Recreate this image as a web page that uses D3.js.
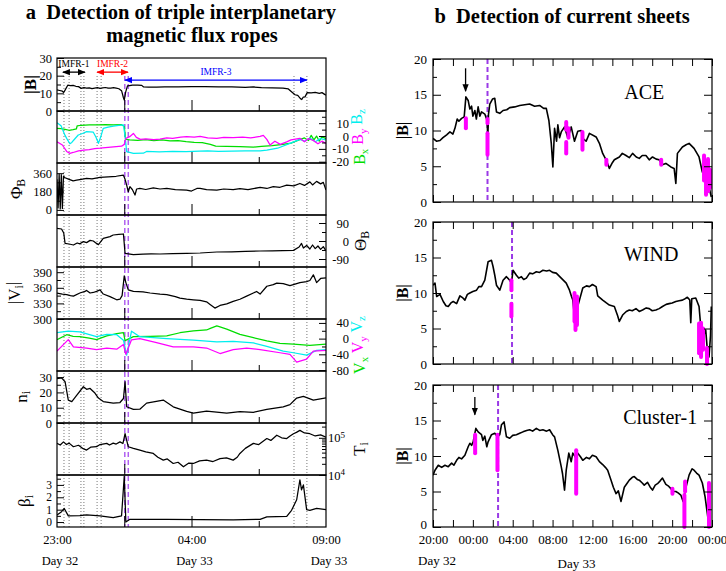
<!DOCTYPE html>
<html>
<head>
<meta charset="utf-8">
<script src="https://cdn.jsdelivr.net/npm/d3@7"></script>
<style>
  body { margin: 0; background: #fff; }
  text { font-family: "Liberation Serif", "Times New Roman", serif; }
</style>
</head>
<body>
<svg id="fig" width="726" height="571"></svg>
<script>
// ---------- panel a data: hours after 23:00 on day 32 ----------
const aTimeTicks = [0, 5, 10];
const aTimeLabels = ["23:00", "04:00", "09:00"];
const aDayLabels = [[0, "Day 32"], [5, "Day 33"], [10, "Day 33"]];
const aBoundaryTimes = [0.26, 0.45, 0.89, 1.0, 1.49, 1.64, 8.81, 9.29];
const aShockTimes = [2.52, 2.65];
const imfrNames = ["IMFR-1", "IMFR-2", "IMFR-3"];
const imfrStart = [0.22, 1.49, 2.53];
const imfrEnd = [1.04, 2.64, 9.29];
const imfrLevel = [22, 22, 17.5];

const absB = [[0,11.9],[0.1,11.6],[0.2,11.2],[0.25,10.5],[0.3,11.8],[0.4,14.6],[0.5,14.3],[0.6,14.5],[0.7,14.0],[0.8,13.8],[0.9,12.8],[1.0,13.2],[1.1,12.9],[1.2,13.1],[1.3,12.7],[1.4,13.0],[1.5,13.2],[1.6,12.8],[1.7,13.1],[1.8,13.3],[1.9,12.9],[2.0,13.0],[2.1,13.2],[2.2,12.9],[2.3,12.6],[2.4,11.5],[2.47,7.5],[2.5,6.2],[2.55,10.5],[2.62,14.2],[2.7,14.4],[2.8,14.6],[3.0,14.7],[3.15,14.5],[3.22,13.6],[3.4,13.5],[3.7,13.5],[4.0,13.6],[4.5,13.7],[5.0,13.8],[5.5,13.8],[6.0,13.7],[6.5,13.6],[7.0,13.4],[7.3,13.6],[7.6,13.2],[8.0,13.1],[8.4,12.9],[8.6,12.5],[8.75,10.5],[8.85,9.2],[8.95,8.8],[9.05,7.0],[9.1,6.5],[9.15,7.8],[9.22,8.0],[9.3,10.4],[9.45,10.2],[9.6,10.5],[9.75,10.0],[9.85,10.4],[9.95,9.4],[10,9.0]];
const bx = [[0,6.0],[0.15,5.8],[0.3,5.2],[0.45,4.5],[0.6,5.0],[0.72,5.5],[0.75,8.0],[0.9,8.4],[1.2,8.6],[1.5,8.7],[1.8,8.9],[2.1,8.6],[2.4,8.8],[2.5,7.5],[2.55,-2.5],[2.7,-3.0],[3.0,-3.4],[3.3,-2.8],[3.6,-3.6],[3.9,-3.0],[4.2,-3.8],[4.5,-3.5],[4.8,-4.4],[5.1,-5.0],[5.4,-5.2],[5.7,-6.5],[5.9,-7.8],[6.3,-8.0],[6.8,-8.3],[7.3,-8.6],[7.6,-8.0],[8.0,-7.5],[8.4,-6.5],[8.7,-5.5],[9.0,-3.0],[9.2,-1.5],[9.35,-3.5],[9.45,0.5],[9.55,-3.0],[9.65,0.0],[9.75,-4.0],[9.85,-0.5],[10,-2.0]];
const by = [[0,-4.4],[0.2,-7.0],[0.36,-12.0],[0.48,-13.5],[0.6,-12.8],[0.8,-11.5],[1.0,-11.0],[1.2,-10.5],[1.4,-9.8],[1.6,-9.5],[1.8,-9.0],[2.0,-8.6],[2.2,-8.2],[2.4,-7.9],[2.5,-6.5],[2.56,-1.8],[2.7,-0.5],[2.84,2.0],[2.95,-1.0],[3.1,-2.6],[3.3,-2.2],[3.6,-2.8],[3.83,-2.4],[4.08,-1.5],[4.3,-1.8],[4.6,-0.8],[4.82,-0.5],[5.1,-0.8],[5.32,-0.3],[5.6,-1.5],[5.94,-1.8],[6.2,-1.0],[6.55,-1.2],[6.9,-0.8],[7.2,-1.5],[7.55,-0.3],[7.67,0.5],[7.8,-2.6],[7.92,-7.0],[8.1,-4.0],[8.3,-6.5],[8.54,-4.5],[8.7,-3.0],[9.03,-1.8],[9.2,-4.5],[9.35,-2.0],[9.53,-3.5],[9.7,-6.0],[9.85,-4.0],[10,-5.7]];
const bz = [[0,10.4],[0.15,8.0],[0.3,0.5],[0.36,-1.8],[0.48,-6.0],[0.55,-5.0],[0.65,-2.5],[0.79,0.8],[0.95,2.0],[1.1,3.4],[1.35,3.0],[1.45,-1.0],[1.54,-5.7],[1.62,-1.0],[1.72,6.0],[1.9,7.0],[2.1,7.8],[2.3,8.3],[2.47,8.6],[2.53,0.0],[2.59,-12.2],[2.84,-13.5],[3.21,-13.4],[3.33,-12.0],[3.8,-12.3],[4.3,-12.0],[4.8,-12.2],[5.3,-11.8],[5.6,-11.5],[6.0,-12.0],[6.5,-11.8],[7.0,-11.6],[7.55,-11.6],[7.8,-11.0],[8.2,-9.5],[8.66,-5.7],[9.03,-2.6],[9.2,-4.0],[9.4,-1.5],[9.6,-4.5],[9.8,-2.0],[10,-3.0]];
const phiB = [[0,300],[0.04,20],[0.08,350],[0.12,10],[0.16,345],[0.2,15],[0.24,330],[0.3,315],[0.45,300],[0.6,285],[0.73,292],[0.9,300],[1.1,310],[1.3,305],[1.6,320],[1.9,325],[2.2,330],[2.47,340],[2.53,300],[2.59,243],[2.65,178],[2.71,228],[2.8,200],[2.9,146],[2.96,205],[3.08,211],[3.3,200],[3.58,215],[3.83,205],[4.08,212],[4.4,200],[4.82,195],[5.0,185],[5.2,210],[5.32,211],[5.56,198],[5.94,195],[6.2,205],[6.55,198],[6.8,208],[7.1,200],[7.55,220],[7.8,210],[8.04,228],[8.29,222],[8.54,243],[8.8,235],[9.03,259],[9.2,240],[9.4,275],[9.5,245],[9.65,280],[9.8,255],[9.9,270],[10,195]];
const thetaB = [[0,63],[0.17,60],[0.25,40],[0.3,-12],[0.45,-15],[0.61,-20],[0.75,-10],[0.85,-14],[0.98,-3],[1.1,-8],[1.23,3],[1.35,0],[1.47,-12],[1.54,-18],[1.72,13],[1.97,22],[2.09,30],[2.3,33],[2.47,35],[2.53,-62],[2.84,-68],[3.2,-66],[3.5,-64],[3.83,-65],[4.3,-63],[4.82,-62],[5.32,-60],[5.94,-55],[6.5,-54],[7.0,-52],[7.55,-50],[8.0,-49],[8.79,-47],[9.0,-30],[9.09,-12],[9.16,-35],[9.28,-22],[9.4,-40],[9.5,-20],[9.6,-38],[9.7,-25],[9.8,-42],[9.9,-28],[10,-50]];
const absV = [[0,350],[0.2,348],[0.36,347],[0.5,345],[0.61,344],[0.85,350],[1.04,353],[1.1,355],[1.23,350],[1.35,351],[1.47,353],[1.6,356],[1.72,348],[1.97,343],[2.22,337],[2.34,338],[2.42,345],[2.5,383],[2.56,370],[2.65,356],[2.84,353],[3.2,352],[3.46,350],[3.83,348],[4.08,347],[4.4,343],[4.57,340],[4.82,338],[5.07,337],[5.32,336],[5.56,333],[5.69,328],[5.87,321],[6.06,326],[6.31,329],[6.55,334],[6.8,338],[7.05,344],[7.3,350],[7.42,353],[7.55,348],[7.8,363],[8.04,366],[8.17,369],[8.41,368],[8.66,364],[8.91,368],[9.03,370],[9.28,372],[9.4,374],[9.53,385],[9.65,370],[9.8,378],[10,379]];
const vx = [[0,-2.5],[0.36,10],[0.6,6],[0.85,5],[1.2,1],[1.47,-2.5],[1.85,7],[2.22,12.7],[2.47,15],[2.53,-5],[2.84,5],[3.46,6],[4.08,7],[4.57,15],[5.07,19.5],[5.56,22],[5.7,26],[5.94,32.5],[6.06,30],[6.31,24],[6.8,11],[7.3,2.5],[7.8,-6],[8.29,-12],[8.79,-14],[9.4,-17],[10,-14]];
const vy = [[0,-32],[0.42,-2.5],[0.61,-21],[1.1,-24],[1.47,-28],[1.85,-24],[2.22,-27],[2.47,-15],[2.56,-40],[2.77,-3],[3.08,0],[3.7,-10],[4.32,-21],[5.07,-21],[5.56,-24],[6.06,-38],[6.55,-28],[7.05,-24],[7.55,-28],[8.29,-36],[8.66,-40],[8.91,-60],[9.28,-52],[9.53,-32],[10,-30]];
const vz = [[0,15],[0.42,19],[0.85,17],[1.47,5],[1.85,11],[2.22,10],[2.47,-4],[2.59,-42],[2.77,19],[3.08,5],[4.08,0],[5.07,-4],[5.94,-8],[6.55,-7],[7.3,-11],[7.8,-20],[8.41,-32],[8.79,-36],[9.28,-42],[9.65,-30],[10,-28]];
const ni = [[0,29],[0.17,29.5],[0.3,27],[0.42,15],[0.55,14],[0.73,18],[0.98,23.7],[1.1,22],[1.23,22.6],[1.41,19.6],[1.54,16.3],[1.72,14],[2.09,13],[2.34,13.4],[2.47,16],[2.53,27],[2.59,10.6],[2.84,8.9],[3.08,9],[3.33,13],[3.95,15],[4.32,10.6],[4.82,7.6],[5.07,6.5],[5.56,7.8],[6.31,6.5],[6.8,7.4],[7.3,7],[7.8,8.9],[8.41,10.6],[8.66,12],[8.91,16.3],[9.16,17.4],[9.53,15],[10,16.5]];
const ti = [[0,70800],[0.12,64000],[0.24,77600],[0.35,66000],[0.45,72000],[0.61,57500],[0.8,63000],[0.95,52000],[1.1,46800],[1.25,56000],[1.47,57500],[1.6,66000],[1.85,70800],[1.95,64000],[2.09,72000],[2.2,68000],[2.34,77600],[2.45,70000],[2.53,128800],[2.6,80000],[2.65,57500],[2.84,52000],[3.08,46800],[3.3,42000],[3.58,38000],[3.75,30000],[3.95,25100],[4.1,27000],[4.32,20400],[4.5,22000],[4.7,16600],[4.9,21000],[5.07,20400],[5.3,24000],[5.56,25100],[5.8,23000],[6.06,27500],[6.3,29000],[6.55,25100],[6.7,30000],[6.8,38000],[7.0,52000],[7.3,70800],[7.5,66000],[7.8,95500],[7.95,85000],[8.17,117500],[8.35,100000],[8.54,95500],[8.65,110000],[8.79,128800],[8.9,140000],[9.03,158500],[9.2,135000],[9.4,128800],[9.6,112000],[9.8,120000],[10,104700]];
const betai = [[0,0.57],[0.17,0.84],[0.27,1.1],[0.42,0.5],[0.85,0.52],[1.1,0.57],[1.6,0.5],[2.09,0.35],[2.4,0.5],[2.5,3.7],[2.56,0.0],[2.71,0.22],[4.08,0.22],[5.32,0.2],[6.55,0.18],[7.55,0.22],[7.8,0.42],[8.54,0.45],[8.72,0.95],[8.91,1.8],[9.03,3.4],[9.09,2.6],[9.16,3.0],[9.28,1.0],[9.4,0.95],[9.65,1.1],[10,1.0]];

// ---------- panel b data: hours after 20:00 on day 32 ----------
const bTimeTicks = [0, 4, 8, 12, 16, 20, 24, 28];
const bTimeLabels = ["20:00", "00:00", "04:00", "08:00", "12:00", "16:00", "20:00", "00:00"];
const bDayLabels = [[0, "Day 32"], [14, "Day 33"]];
const bNames = ["ACE", "WIND", "Cluster-1"];
const bShockTimes = [5.47, 7.93, 6.53];
const bArrows = [[3.27, 18.7, 15.5], null, [4.2, 18.3, 15.8]];

const ace = [[0,8.9],[0.35,8.5],[0.7,8.6],[1.0,9.0],[1.37,9.4],[1.7,9.8],[2.0,9.5],[2.2,10.3],[2.43,11.6],[2.6,11.3],[2.87,11.7],[3.13,11.9],[3.3,14.7],[3.53,14.2],[3.7,13.0],[3.87,13.4],[4.0,12.0],[4.2,12.8],[4.35,11.6],[4.53,13.3],[4.7,12.0],[4.87,12.6],[5.2,12.3],[5.43,11.4],[5.5,9.0],[5.57,12.3],[5.7,13.7],[5.97,14.4],[6.2,14.5],[6.37,12.6],[6.7,12.4],[7.03,12.8],[7.4,12.9],[7.7,13.2],[8.2,13.3],[8.7,13.5],[9.2,13.6],[9.7,13.7],[10.2,13.4],[10.7,13.5],[11.1,13.1],[11.37,13.1],[11.63,11.4],[11.87,8.2],[12.03,4.9],[12.2,10.3],[12.4,8.5],[12.53,10.8],[12.7,9.0],[12.87,9.8],[13.2,10.5],[13.53,9.0],[13.87,10.5],[14.2,8.5],[14.53,9.9],[14.87,10.0],[15.1,8.8],[15.37,8.5],[15.7,9.6],[16.37,9.1],[16.7,8.2],[17.03,6.8],[17.37,5.9],[17.7,4.7],[18.0,5.5],[18.2,5.9],[18.7,6.3],[19.0,6.8],[19.37,6.5],[19.7,6.2],[20.03,6.8],[20.4,6.3],[20.7,6.1],[21.0,6.5],[21.37,6.5],[21.7,5.9],[22.03,6.3],[22.4,6.0],[22.7,5.9],[23.0,5.2],[23.37,5.4],[23.87,4.9],[24.2,4.7],[24.37,2.6],[24.53,6.8],[25.03,7.7],[25.4,8.0],[25.7,8.2],[26.2,7.5],[26.7,6.3],[27.03,4.2],[27.37,5.0],[27.7,2.1],[27.93,0.7]];
const wind = [[0,11.1],[0.2,11.4],[0.37,9.5],[0.7,9.8],[1.03,8.8],[1.3,8.2],[1.53,8.1],[1.8,8.6],[2.03,8.8],[2.37,8.5],[2.7,9.6],[3.0,9.3],[3.2,9.0],[3.45,9.8],[3.7,10.0],[4.0,10.2],[4.37,10.4],[4.6,10.9],[4.87,10.9],[5.2,11.8],[5.53,14.4],[5.87,14.6],[6.03,13.7],[6.2,12.5],[6.37,11.1],[6.7,10.4],[7.03,11.8],[7.37,12.3],[7.7,11.8],[7.87,11.4],[8.03,13.2],[8.37,12.5],[8.6,12.1],[8.87,12.3],[9.1,11.9],[9.37,12.1],[9.7,12.8],[10.0,12.7],[10.37,13.0],[10.7,12.9],[11.03,13.2],[11.4,13.1],[11.7,13.2],[12.0,12.9],[12.37,12.8],[12.87,12.1],[13.37,11.4],[13.7,10.4],[13.9,9.5],[14.03,9.0],[14.2,6.7],[14.37,5.7],[14.5,8.0],[14.7,9.0],[15.03,10.7],[15.4,11.0],[15.7,10.9],[16.0,11.2],[16.37,10.9],[16.53,9.6],[17.03,9.0],[17.4,8.6],[17.7,8.3],[18.2,8.1],[18.53,6.8],[18.7,6.0],[19.03,6.9],[19.4,7.4],[19.7,7.6],[20.0,7.5],[20.37,7.8],[20.7,7.4],[21.03,7.6],[21.4,7.9],[21.7,7.8],[22.0,7.5],[22.37,7.6],[22.7,7.8],[23.03,8.1],[23.4,8.4],[23.7,8.5],[24.0,8.6],[24.37,8.8],[24.7,8.9],[25.03,9.0],[25.3,9.2],[25.53,9.4],[25.77,9.0],[25.87,5.8],[25.97,9.2],[26.37,9.3],[26.7,8.1],[26.87,5.3],[27.03,3.4],[27.37,4.8],[27.53,2.0],[27.7,1.0],[27.85,4.0],[27.93,8.1]];
const cluster = [[0,7.3],[0.2,8.0],[0.53,8.7],[0.87,8.4],[1.2,8.7],[1.53,8.5],[1.87,9.0],[2.1,8.7],[2.37,9.4],[2.6,9.8],[2.87,9.6],[3.2,10.1],[3.53,11.3],[3.7,11.8],[3.87,11.5],[4.03,12.0],[4.3,13.9],[4.53,13.4],[4.87,13.0],[5.0,12.2],[5.2,12.8],[5.4,11.3],[5.53,12.0],[5.87,13.0],[6.2,13.2],[6.47,12.7],[6.7,13.0],[6.87,14.4],[7.13,14.8],[7.37,12.7],[7.7,12.5],[8.0,12.9],[8.37,13.0],[8.7,13.2],[9.03,13.4],[9.4,13.6],[9.7,13.7],[10.0,13.5],[10.37,13.9],[10.7,13.6],[11.03,13.7],[11.4,13.5],[11.7,13.7],[12.0,13.0],[12.2,12.7],[12.53,10.8],[12.87,8.5],[13.0,7.5],[13.2,5.2],[13.37,8.0],[13.63,10.4],[13.87,9.2],[14.03,10.4],[14.3,9.8],[14.53,10.4],[14.8,9.9],[15.03,9.4],[15.4,9.8],[15.7,9.6],[16.0,10.1],[16.37,9.9],[16.7,9.2],[17.03,8.8],[17.3,8.4],[17.53,8.0],[17.87,6.6],[18.1,5.6],[18.37,4.7],[18.6,5.1],[18.87,3.6],[19.2,5.6],[19.5,6.2],[19.7,6.6],[20.0,7.0],[20.2,7.1],[20.5,6.7],[20.7,6.6],[21.0,6.2],[21.2,5.9],[21.53,6.3],[21.8,5.6],[22.03,5.2],[22.3,5.9],[22.53,6.1],[22.8,6.5],[23.03,6.9],[23.37,6.0],[23.6,5.8],[23.87,5.4],[24.1,5.0],[24.37,5.0],[24.6,4.8],[24.87,4.5],[25.1,3.6],[25.37,5.5],[25.7,7.3],[26.0,8.2],[26.2,8.0],[26.45,7.6],[26.7,7.3],[27.03,6.2],[27.3,4.3],[27.53,1.9],[27.7,0.1]];
// current sheets: [hour, low |B|, high |B|]
const aceSheets = [[3.3,10.3,11.7],[5.47,6.6,9.6],[5.47,11.0,11.6],[13.37,10.1,11.2],[13.37,6.8,8.4],[13.6,9.0,10.3],[15.0,7.3,9.8],[17.4,5.2,5.9],[22.9,5.2,5.9],[27.2,3.0,6.5],[27.4,1.0,5.5],[27.6,1.5,6.0],[27.8,2.0,4.5]];
const windSheets = [[7.87,10.4,11.8],[7.87,6.7,8.5],[14.2,6.0,10.0],[14.3,4.8,9.0],[14.45,5.5,9.5],[26.7,1.5,5.7],[26.9,1.0,5.8],[27.1,2.0,5.0],[27.5,0.0,2.3]];
const clusterSheets = [[4.23,10.4,13.0],[6.47,8.0,13.0],[14.37,4.7,10.8],[24.03,4.7,5.4],[25.23,0,4.5],[25.3,5.0,6.4],[27.7,0,6.2]];

// ---------- drawing ----------
const SERIF = '"Liberation Serif","Times New Roman",serif';
const GREEN = "#00dd00", MAG = "#ff00ff", CYAN = "#00eeee", SHOCK = "#b060f0";
const svg = d3.select("#fig");

const defs = svg.append("defs");
function marker(id, color) {
  defs.append("marker").attr("id", id).attr("viewBox", "0 0 10 10")
    .attr("refX", 9).attr("refY", 5).attr("markerWidth", 6).attr("markerHeight", 6)
    .attr("orient", "auto-start-reverse")
    .append("path").attr("d", "M0,1L10,5L0,9z").attr("fill", color);
}
marker("arrK", "#000"); marker("arrR", "#ff0000"); marker("arrB", "#0000ff");

// titles
svg.append("text").attr("x", 181).attr("y", 19).attr("text-anchor", "middle").style("white-space", "pre")
  .attr("font-weight", "bold").attr("font-size", 20.5).text("a  Detection of triple interplanetary");
svg.append("text").attr("x", 192).attr("y", 42).attr("text-anchor", "middle")
  .attr("font-weight", "bold").attr("font-size", 20.5).text("magnetic flux ropes");
svg.append("text").attr("x", 562).attr("y", 23).attr("text-anchor", "middle").style("white-space", "pre")
  .attr("font-weight", "bold").attr("font-size", 20.5).text("b  Detection of current sheets");

// ===== panel a =====
const xA = d3.scaleLinear().domain([0, 10]).range([57, 326]);
const aPanels = [
  {top: 58, bottom: 111, domain: [0, 30], side: "left", major: [0,10,20,30], minor: [5,15,25], series: [[absB, "#000"]]},
  {top: 111, bottom: 163, domain: [-21, 19.5], side: "right", major: [-20,-10,0,10], minor: [-15,-5,5,15], series: [[bx, GREEN], [bz, CYAN], [by, MAG]]},
  {top: 163, bottom: 215, domain: [-50, 460], side: "left", major: [0,180,360], minor: [90,270], series: [[phiB, "#000"]]},
  {top: 215, bottom: 267, domain: [-130, 130], side: "right", major: [-90,0,90], minor: [-45,45], series: [[thetaB, "#000"]]},
  {top: 267, bottom: 319, domain: [300, 400], side: "left", major: [300,330,360,390], minor: [315,345,375], series: [[absV, "#000"]]},
  {top: 319, bottom: 371, domain: [-82.5, 50], side: "right", major: [-80,-40,0,40], minor: [-60,-20,20], series: [[vx, GREEN], [vz, CYAN], [vy, MAG]]},
  {top: 371, bottom: 423, domain: [0, 34], side: "left", major: [0,10,20,30], minor: [5,15,25], series: [[ni, "#000"]]},
  {top: 423, bottom: 475, domain: [1e4, 2.5e5], log: true, side: "right", major: [1e4,1e5], minor: [2e4,3e4,4e4,5e4,6e4,7e4,8e4,9e4,2e5], series: [[ti, "#000"]]},
  {top: 475, bottom: 527, domain: [-0.4, 3.8], side: "left", major: [0,1,2,3], minor: [0.5,1.5,2.5,3.5], series: [[betai, "#000"]], small: true}
];
const aBottom = aPanels[aPanels.length - 1].bottom;
const gA = svg.append("g");

// dotted boundaries and shock lines behind data
gA.selectAll(".bnd").data(aBoundaryTimes).join("line")
  .attr("x1", d => xA(d)).attr("x2", d => xA(d)).attr("y1", 76).attr("y2", aBottom)
  .attr("stroke", "#777").attr("stroke-width", 1).attr("stroke-dasharray", "1,2");
gA.selectAll(".shk").data(aShockTimes).join("line")
  .attr("x1", d => xA(d)).attr("x2", d => xA(d)).attr("y1", 76).attr("y2", aBottom)
  .attr("stroke", SHOCK).attr("stroke-width", 1.5).attr("stroke-dasharray", "5,3");

aPanels.forEach((p, i) => {
  const y = (p.log ? d3.scaleLog() : d3.scaleLinear()).domain(p.domain).range([p.bottom, p.top]);
  const clipId = "clipA" + i;
  defs.append("clipPath").attr("id", clipId).append("rect")
    .attr("x", xA(0)).attr("y", p.top).attr("width", xA(10) - xA(0)).attr("height", p.bottom - p.top);
  const line = d3.line().x(d => xA(d[0])).y(d => y(d[1]));
  p.series.forEach(([data, color]) => {
    gA.append("path").datum(data).attr("clip-path", `url(#${clipId})`)
      .attr("fill", "none").attr("stroke", color).attr("stroke-width", 1.25)
      .attr("stroke-linejoin", "round").attr("d", line);
  });
  // border
  gA.append("rect").attr("x", xA(0)).attr("y", p.top).attr("width", xA(10) - xA(0))
    .attr("height", p.bottom - p.top).attr("fill", "none").attr("stroke", "#000").attr("stroke-width", 1.2);
  // y axes
  const left = p.side === "left";
  const mk = () => left ? d3.axisLeft(y) : d3.axisRight(y);
  const ax = gA.append("g").attr("transform", `translate(${left ? xA(0) : xA(10)},0)`)
    .call(mk().tickValues(p.major).tickSize(-7).tickPadding(5)
      .tickFormat(d => p.log ? "10" : String(d)));
  ax.attr("font-family", SERIF).attr("font-size", p.small ? 11.5 : 12.5);
  ax.select(".domain").remove();
  if (!left) ax.selectAll("text").attr("text-anchor", "end").attr("x", p.log ? 19 : 23);
  if (p.log) ax.selectAll("text").append("tspan").attr("dy", "-0.5em").attr("font-size", 9)
    .text(d => Math.round(Math.log10(d)));
  const axm = gA.append("g").attr("transform", `translate(${left ? xA(0) : xA(10)},0)`)
    .call(mk().tickValues(p.minor).tickSize(-4).tickFormat(""));
  axm.select(".domain").remove();
  // x ticks
  [[[2.5, 5], -11], [[7.5], -6]].forEach(([vals, len]) => {
    const xt = gA.append("g").attr("transform", `translate(0,${p.bottom})`)
      .call(d3.axisBottom(xA).tickValues(vals).tickSize(len).tickFormat(""));
    xt.select(".domain").remove();
  });
});

// time labels
const xLab = gA.append("g").attr("transform", `translate(0,${aBottom})`)
  .call(d3.axisBottom(xA).tickValues(aTimeTicks).tickSize(0).tickPadding(8)
    .tickFormat((d, i) => aTimeLabels[i]));
xLab.attr("font-family", SERIF).attr("font-size", 12.5);
xLab.select(".domain").remove();
gA.selectAll(".dayA").data(aDayLabels).join("text")
  .attr("x", d => xA(d[0]) + 3).attr("y", 565).attr("text-anchor", "middle")
  .attr("font-size", 12.5).text(d => d[1]);

// IMFR arrows
const yB = d3.scaleLinear().domain(aPanels[0].domain).range([aPanels[0].bottom, aPanels[0].top]);
const imfrColors = ["#000", "#ff0000", "#0000ff"];
const imfrMarkers = ["arrK", "arrR", "arrB"];
imfrNames.forEach((name, i) => {
  gA.append("line").attr("x1", xA(imfrStart[i])).attr("x2", xA(imfrEnd[i]))
    .attr("y1", yB(imfrLevel[i])).attr("y2", yB(imfrLevel[i]))
    .attr("stroke", imfrColors[i]).attr("stroke-width", 1.3)
    .attr("marker-start", `url(#${imfrMarkers[i]})`).attr("marker-end", `url(#${imfrMarkers[i]})`);
  gA.append("text").attr("x", xA((imfrStart[i] + imfrEnd[i]) / 2)).attr("y", yB(imfrLevel[i]) - 5)
    .attr("text-anchor", "middle").attr("font-size", 9.5).attr("fill", imfrColors[i]).text(name);
});

// axis titles (rotated)
function vlabel(g, x, y, parts, size, bold) {
  const t = g.append("text").attr("transform", `translate(${x},${y}) rotate(-90)`)
    .attr("text-anchor", "middle").attr("font-size", size)
    .attr("font-weight", bold ? "bold" : "normal");
  parts.forEach(([s, sub, color]) => {
    const ts = t.append("tspan").text(s).attr("fill", color || "#000");
    if (sub) ts.attr("dy", "0.3em").attr("font-size", size * 0.68);
    else ts.attr("dy", t.selectAll("tspan").size() > 1 ? "-0.3em" : 0);
  });
  return t;
}
const mid = p => (p.top + p.bottom) / 2;
vlabel(gA, 36, mid(aPanels[0]), [["|B|"]], 17, true);
vlabel(gA, 22, mid(aPanels[2]), [["Φ"], ["B", true]], 17);
vlabel(gA, 20, mid(aPanels[4]), [["|V"], ["i", true], ["|"]], 17);
vlabel(gA, 27, mid(aPanels[6]), [["n"], ["i", true]], 17);
vlabel(gA, 30, mid(aPanels[8]), [["β"], ["i", true]], 17);
vlabel(gA, 365, mid(aPanels[1]), [["B", false, GREEN], ["x", true, GREEN], [" B", false, MAG], ["y", true, MAG], [" B", false, CYAN], ["z", true, CYAN]], 16);
vlabel(gA, 366, mid(aPanels[3]), [["Θ"], ["B", true]], 17);
vlabel(gA, 365, mid(aPanels[5]), [["V", false, GREEN], ["x", true, GREEN], [" V", false, MAG], ["y", true, MAG], [" V", false, CYAN], ["z", true, CYAN]], 16);
vlabel(gA, 365, mid(aPanels[7]), [["T"], ["i", true]], 17);

// ===== panel b =====
const xB = d3.scaleLinear().domain([0, 28]).range([433, 712]);
const bPanels = [
  {top: 59, bottom: 202, data: ace, sheets: aceSheets},
  {top: 222, bottom: 364, data: wind, sheets: windSheets},
  {top: 385, bottom: 527, data: cluster, sheets: clusterSheets}
];
const gB = svg.append("g");
const bMajorY = [0, 5, 10, 15, 20], bMinorY = [2.5, 7.5, 12.5, 17.5];
const bHours = d3.range(0, 29, 2);
bPanels.forEach((p, i) => {
  const y = d3.scaleLinear().domain([0, 20]).range([p.bottom, p.top]);
  const clipId = "clipB" + i;
  defs.append("clipPath").attr("id", clipId).append("rect")
    .attr("x", xB(0)).attr("y", p.top).attr("width", xB(28) - xB(0)).attr("height", p.bottom - p.top);
  gB.append("line").attr("x1", xB(bShockTimes[i])).attr("x2", xB(bShockTimes[i]))
    .attr("y1", p.top).attr("y2", p.bottom).attr("stroke", "#9a3ae6")
    .attr("stroke-width", 2).attr("stroke-dasharray", "5,3");
  gB.append("path").datum(p.data).attr("clip-path", `url(#${clipId})`)
    .attr("fill", "none").attr("stroke", "#000").attr("stroke-width", 1.6)
    .attr("stroke-linejoin", "round")
    .attr("d", d3.line().x(d => xB(d[0])).y(d => y(d[1])));
  gB.selectAll(null).data(p.sheets).join("line")
    .attr("x1", d => xB(d[0])).attr("x2", d => xB(d[0]))
    .attr("y1", d => y(d[1])).attr("y2", d => y(d[2]))
    .attr("stroke", MAG).attr("stroke-width", 4).attr("stroke-linecap", "round");
  gB.append("rect").attr("x", xB(0)).attr("y", p.top).attr("width", xB(28) - xB(0))
    .attr("height", p.bottom - p.top).attr("fill", "none").attr("stroke", "#000").attr("stroke-width", 1.2);
  const axL = gB.append("g").attr("transform", `translate(${xB(0)},0)`)
    .call(d3.axisLeft(y).tickValues(bMajorY).tickSize(-8).tickPadding(6).tickFormat(d => String(d)));
  axL.attr("font-family", SERIF).attr("font-size", 13);
  axL.select(".domain").remove();
  if (i === 2) axL.selectAll(".tick text").filter(d => d === 0).attr("dy", "0.12em");
  [[d3.axisLeft(y), xB(0)], [d3.axisRight(y), xB(28)]].forEach(([a, x], k) => {
    const gm = gB.append("g").attr("transform", `translate(${x},0)`)
      .call(a.tickValues(k ? bMajorY : []).tickSize(-8).tickFormat(""));
    gm.select(".domain").remove();
    const gn = gB.append("g").attr("transform", `translate(${x},0)`)
      .call((k ? d3.axisRight(y) : d3.axisLeft(y)).tickValues(bMinorY).tickSize(-4).tickFormat(""));
    gn.select(".domain").remove();
  });
  [[d3.axisTop(xB), p.top], [d3.axisBottom(xB), p.bottom]].forEach(([a, yy]) => {
    const gt = gB.append("g").attr("transform", `translate(0,${yy})`)
      .call(a.tickValues(bHours).tickSize(-7).tickFormat(""));
    gt.select(".domain").remove();
  });
  if (bArrows[i]) {
    const [h, v0, v1] = bArrows[i];
    gB.append("line").attr("x1", xB(h)).attr("x2", xB(h)).attr("y1", y(v0)).attr("y2", y(v1))
      .attr("stroke", "#000").attr("stroke-width", 1.3).attr("marker-end", "url(#arrK)");
  }
  gB.append("text").attr("x", xB([21.2, 21.9, 22.8][i])).attr("y", y(14.45))
    .attr("text-anchor", "middle").attr("font-size", 20).text(bNames[i]);
  vlabel(gB, 408, (p.top + p.bottom) / 2, [["|B|"]], 16, true);
});
const xLabB = gB.append("g").attr("transform", `translate(0,${bPanels[2].bottom})`)
  .call(d3.axisBottom(xB).tickValues(bTimeTicks).tickSize(0).tickPadding(8)
    .tickFormat((d, i) => bTimeLabels[i]));
xLabB.attr("font-family", SERIF).attr("font-size", 13);
xLabB.select(".domain").remove();
gB.selectAll(".dayB").data(bDayLabels).join("text")
  .attr("x", d => xB(d[0]) + 4).attr("y", (d, i) => 565 + i * 3).attr("text-anchor", "middle")
  .attr("font-size", 13).text(d => d[1]);
</script>
</body>
</html>
